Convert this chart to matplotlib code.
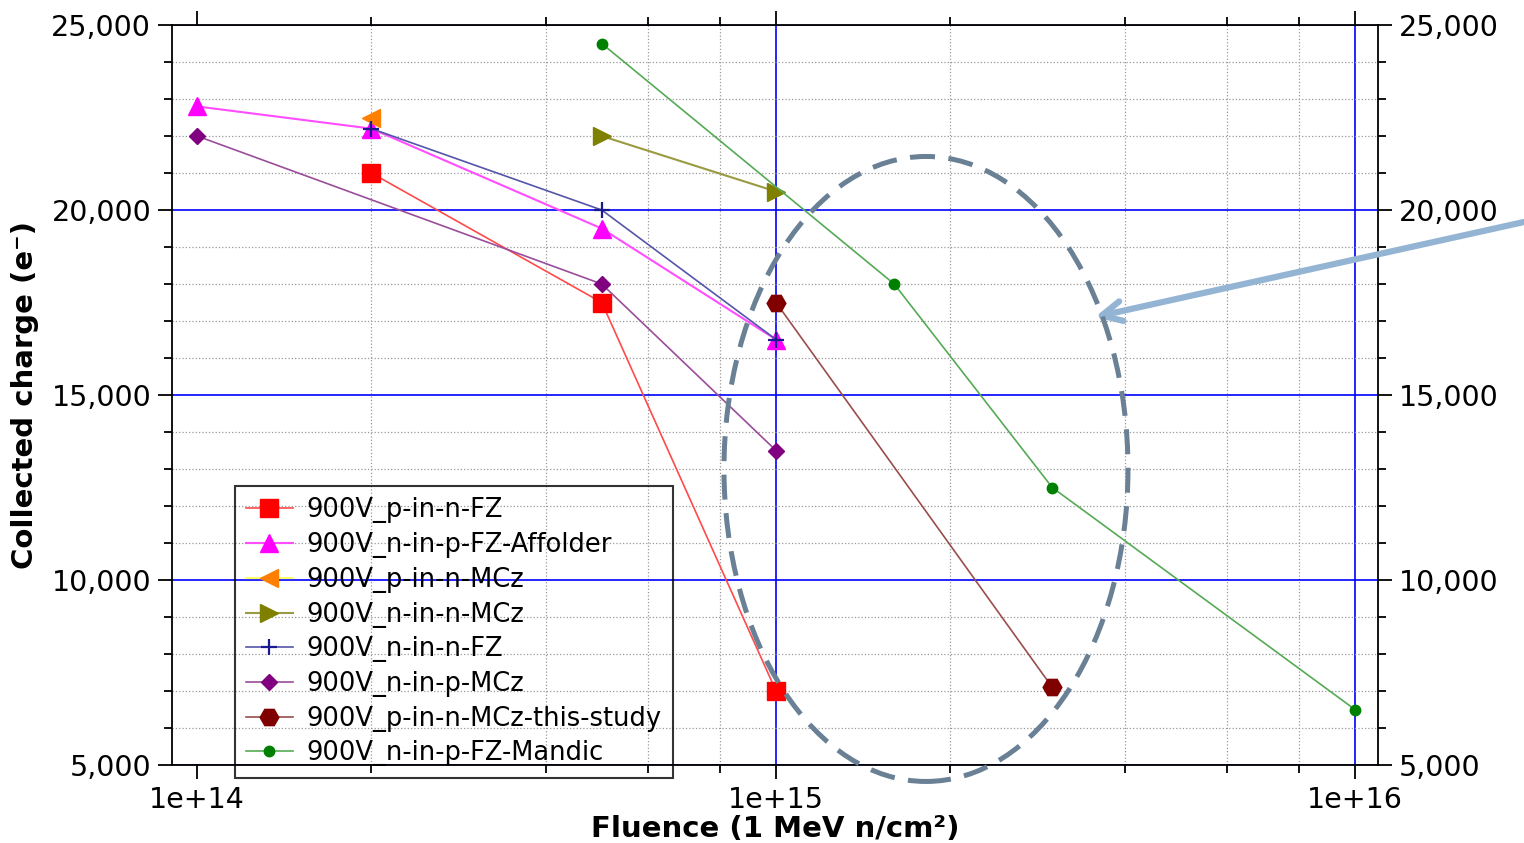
# Carga colectada vs fluencia a 900V
import matplotlib
matplotlib.use('Agg')
import matplotlib.pyplot as plt
from matplotlib.ticker import LogLocator, MultipleLocator, FuncFormatter, NullFormatter
from matplotlib.patches import Ellipse

plt.rcParams['font.family'] = ['DejaVu Sans']

# Datos (fluencia en 1 MeV n/cm², carga en e-)
etiquetas = ['900V_p-in-n-FZ', '900V_n-in-p-FZ-Affolder', '900V_p-in-n-MCz',
             '900V_n-in-n-MCz', '900V_n-in-n-FZ', '900V_n-in-p-MCz',
             '900V_p-in-n-MCz-this-study', '900V_n-in-p-FZ-Mandic']

fluencia_p_fz = [2e14, 5e14, 1e15]
carga_p_fz = [21000, 17500, 7000]

fluencia_affolder = [1e14, 2e14, 5e14, 1e15]
carga_affolder = [22800, 22200, 19500, 16500]

fluencia_p_mcz = [2e14]
carga_p_mcz = [22500]

fluencia_nn_mcz = [5e14, 1e15]
carga_nn_mcz = [22000, 20500]

fluencia_nn_fz = [2e14, 5e14, 1e15]
carga_nn_fz = [22200, 20000, 16500]

fluencia_np_mcz = [1e14, 5e14, 1e15]
carga_np_mcz = [22000, 18000, 13500]

fluencia_estudio = [1e15, 3e15]
carga_estudio = [17500, 7100]

fluencia_mandic = [5e14, 1.6e15, 3e15, 1e16]
carga_mandic = [24500, 18000, 12500, 6500]

fluencias = [fluencia_p_fz, fluencia_affolder, fluencia_p_mcz, fluencia_nn_mcz,
             fluencia_nn_fz, fluencia_np_mcz, fluencia_estudio, fluencia_mandic]
cargas = [carga_p_fz, carga_affolder, carga_p_mcz, carga_nn_mcz,
          carga_nn_fz, carga_np_mcz, carga_estudio, carga_mandic]

# Estilos: (marcador, color marcador, color linea, tamaño, grosor linea)
estilos = [
    ('s', '#ff0000', '#ff4a4a', 13.5, 1.2),
    ('^', '#ff00ff', '#ff4dff', 12.5, 1.5),
    ('<', '#ff8000', '#ffff66', 12.5, 1.5),
    ('>', '#808000', '#9a9a40', 12.5, 1.5),
    ('+', '#1a1a90', '#5555aa', 11, 1.2),
    ('D', '#800080', '#9a4d9a', 8.5, 1.2),
    ('H', '#800000', '#9a4d4d', 13.5, 1.2),
    ('o', '#008000', '#55aa55', 7.5, 1.2),
]

fig = plt.figure(figsize=(15.24, 8.43), dpi=100)
ax = fig.add_axes([0.1129, 0.0925, 0.7913, 0.8778])

for x, y, lab, (m, mc, lc, ms, lw) in zip(fluencias, cargas, etiquetas, estilos):
    ax.plot(x, y, color=lc, lw=lw, marker=m, markersize=ms,
            markerfacecolor=mc, markeredgecolor=mc,
            markeredgewidth=1.6 if m == '+' else 1.0, label=lab, zorder=3)

ax.set_xscale('log')
ax.set_xlim(0.905e14, 1.096e16)
ax.set_ylim(5000, 25000)

ax.xaxis.set_major_locator(LogLocator(base=10))
ax.xaxis.set_minor_locator(LogLocator(base=10, subs=(2, 4, 6, 8)))
ax.xaxis.set_minor_formatter(NullFormatter())
ax.xaxis.set_major_formatter(FuncFormatter(lambda v, p: f'{v:.0e}'))
ax.yaxis.set_major_locator(MultipleLocator(5000))
ax.yaxis.set_minor_locator(MultipleLocator(1000))
ax.yaxis.set_major_formatter(FuncFormatter(lambda v, p: f'{v:,.0f}'))

ax.grid(which='major', color='#0000ff', lw=1.2, zorder=1)
ax.grid(which='minor', color='#999999', ls=':', lw=0.9, zorder=1)
ax.set_axisbelow(True)

ax.tick_params(which='both', direction='out', top=True, right=True,
               labelright=True, labelsize=20.5, width=1.3, pad=5)
ax.tick_params(which='major', length=10)
ax.tick_params(which='minor', length=6)
for s in ax.spines.values():
    s.set_linewidth(1.3)
    s.set_color('black')

ax.set_xlabel('Fluence (1 MeV n/cm²)', fontsize=21, fontweight='bold')
ax.set_ylabel('Collected charge (e⁻)', fontsize=21, fontweight='bold')
ax.xaxis.set_label_coords(0.5, -0.067)
ax.yaxis.set_label_coords(-0.11, 0.5)

leg = ax.legend(loc='lower left', bbox_to_anchor=(0.052, -0.0176), borderaxespad=0,
                fontsize=18.5, frameon=True, fancybox=False, facecolor='none',
                edgecolor='black', handlelength=1.8, handletextpad=0.55,
                labelspacing=0.34, borderpad=0.45)
leg.get_frame().set_linewidth(1.5)
leg.set_zorder(4)

# sin linea de rejilla en 1e14
fig.canvas.draw()
for t in ax.xaxis.get_major_ticks():
    if abs(t.get_loc() - 1e14) < 1e12:
        t.gridline.set_visible(False)

# Elipse discontinua y flecha de anotacion
elipse = Ellipse((0.6076, 0.4437), 0.2651, 0.7414, transform=fig.transFigure,
                 fill=False, edgecolor='#6a8095', lw=3.6,
                 linestyle=(0, (5, 2.7)), zorder=5)
fig.patches.append(elipse)

ax.annotate('', xy=(1095 / 1524, 1 - 317 / 843), xytext=(1.0, 1 - 222 / 843),
            xycoords='figure fraction', textcoords='figure fraction',
            annotation_clip=False,
            arrowprops=dict(arrowstyle='->', color='#94b4d4', lw=4.5,
                            mutation_scale=36, shrinkA=0, shrinkB=0))

fig.savefig('out.png', dpi=100)
